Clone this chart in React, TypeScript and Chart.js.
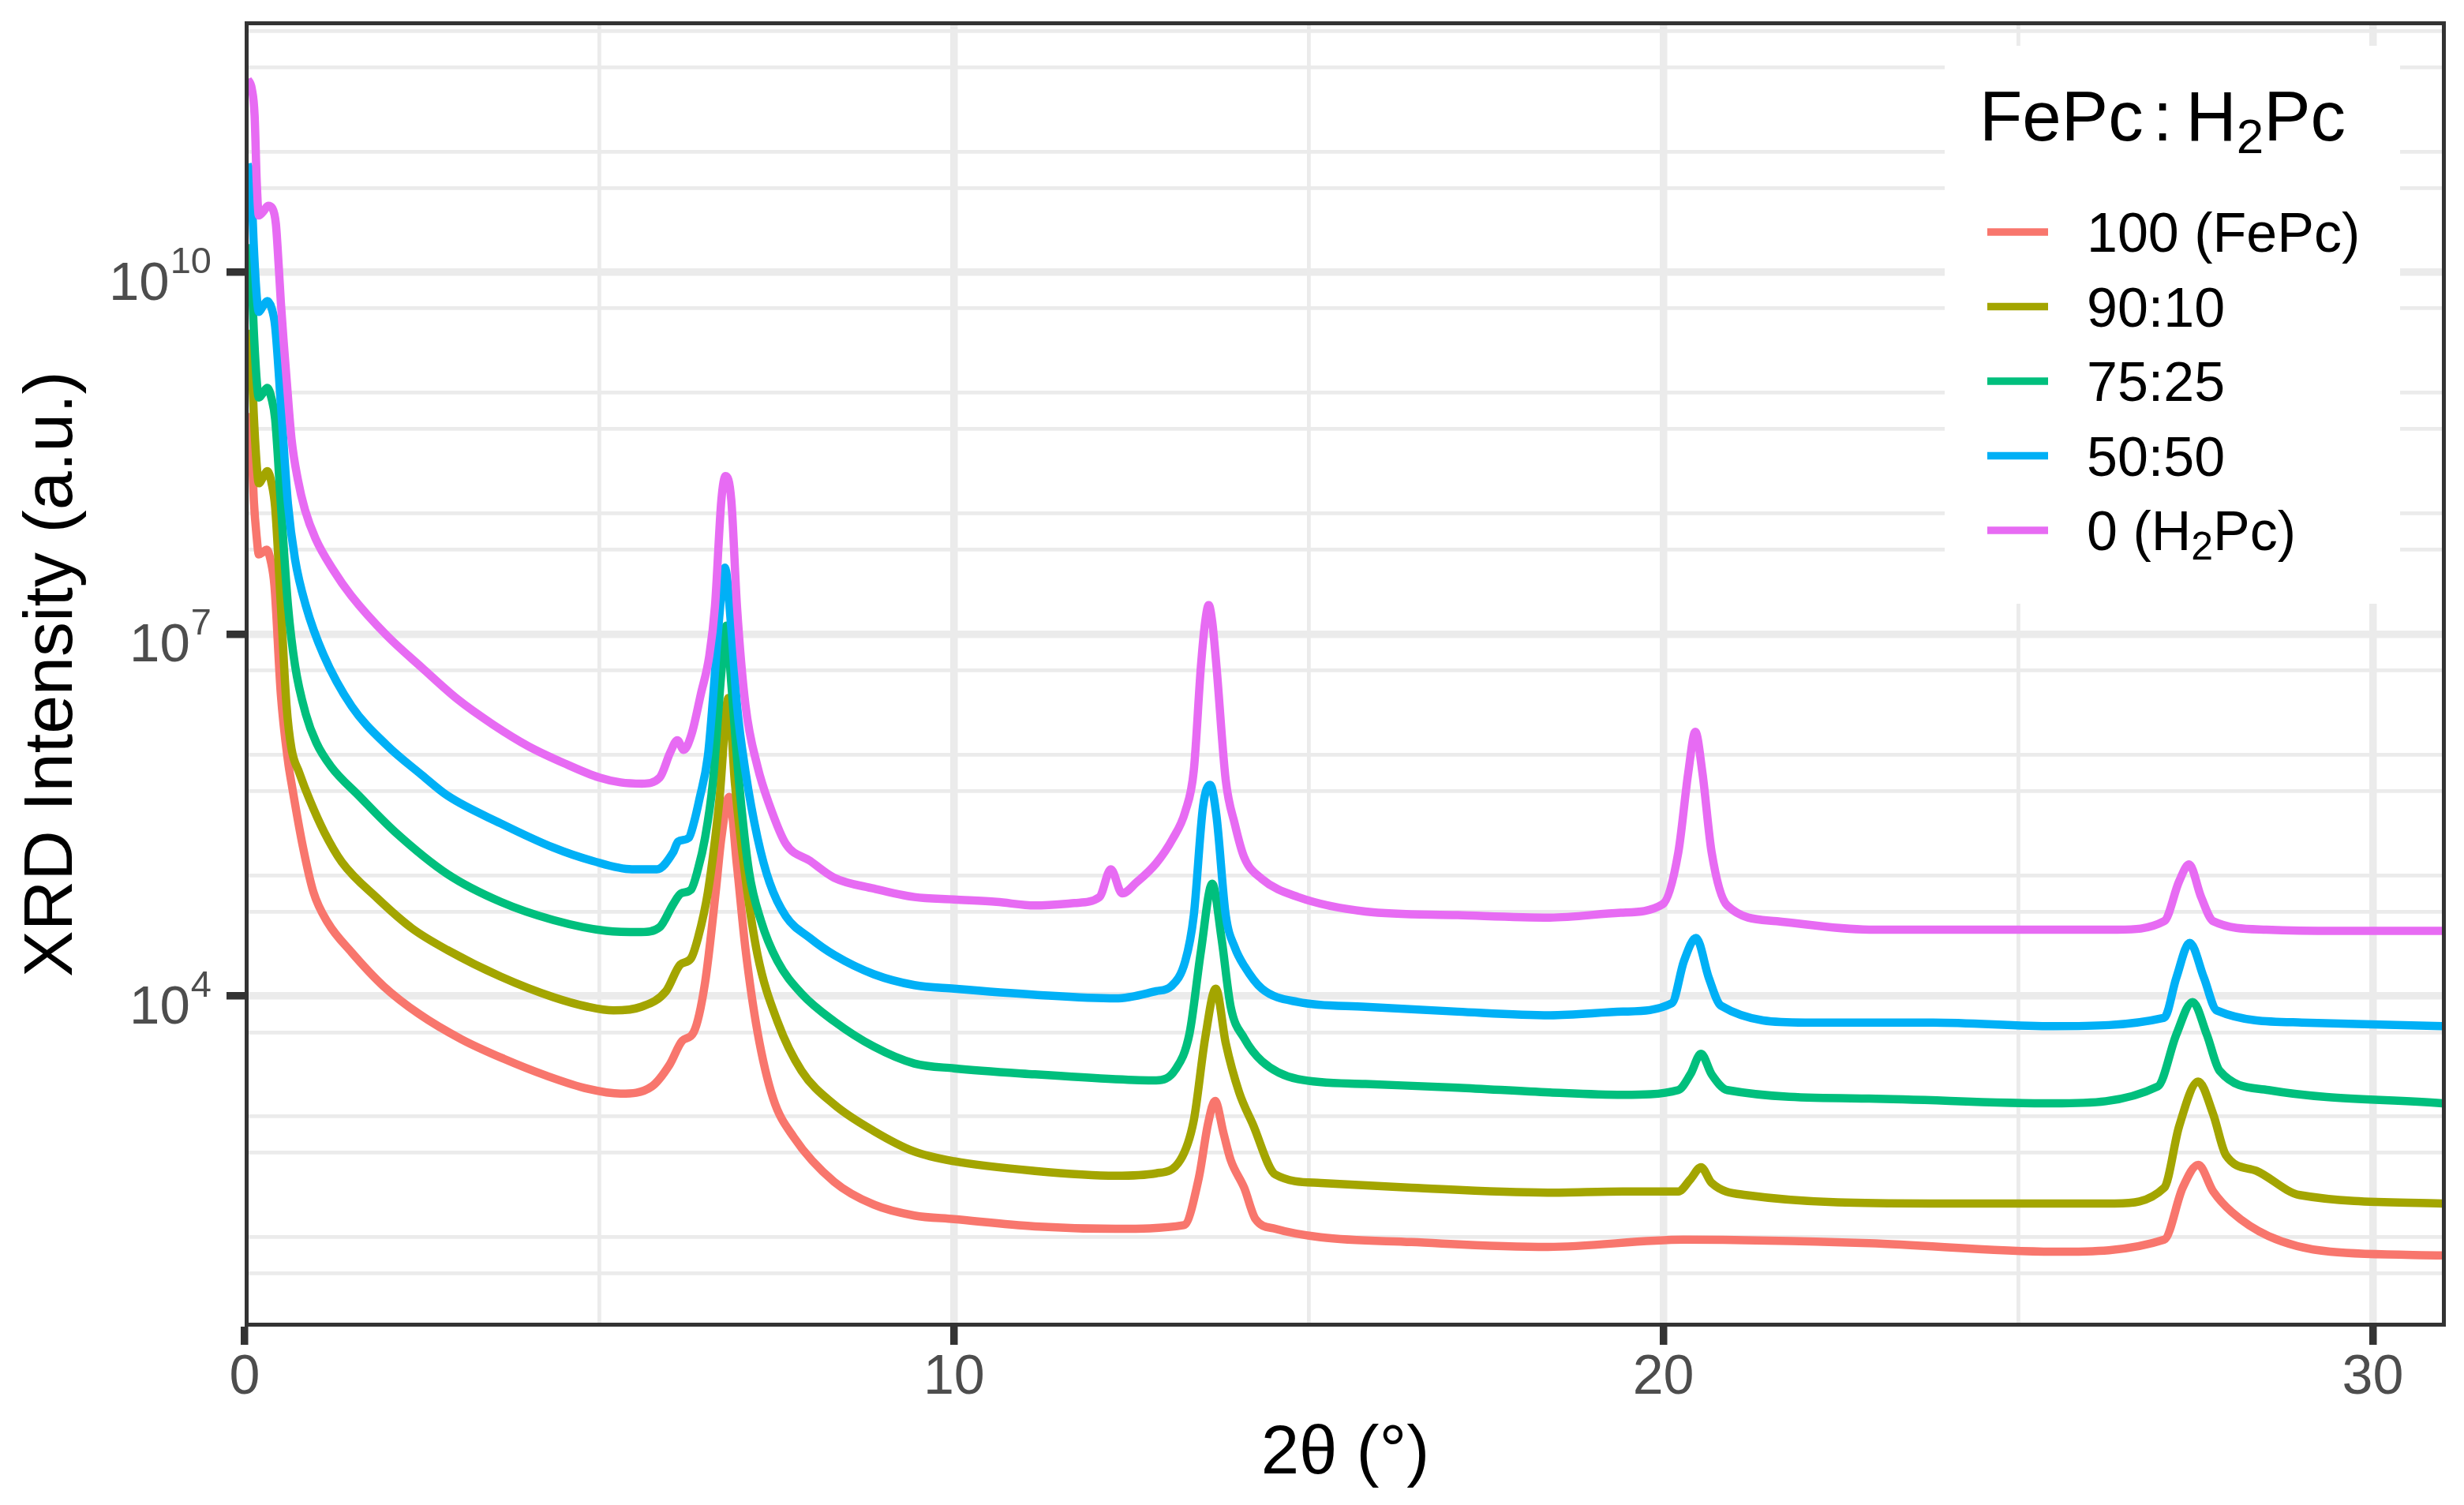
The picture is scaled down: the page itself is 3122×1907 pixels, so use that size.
import React, { useEffect, useRef } from 'react';
import { Chart, registerables } from 'chart.js';

Chart.register(...registerables);

const FONT = '"Liberation Sans", Arial, Helvetica, sans-serif';
Chart.defaults.font.family = FONT;

// ---- data (2θ in degrees, log10 of XRD intensity) ----
const seriesLabels = ['100 (FePc)', '90:10', '75:25', '50:50', '0 (H_{2}Pc)'];
const seriesColors = ['#F8766D', '#A3A500', '#00BF7D', '#00B0F6', '#E76BF3'];
const legendTitle = 'FePc~{12}:~{17}H_{2}Pc';

const xTickValues = [0, 5, 10, 15, 20, 25, 30];
const xTickLabels = ['0', '', '10', '', '20', '', '30'];
const xLimits = [0, 31.03];
const yLimitsLog10 = [1.259, 12.079];
const yMajorExponents = [4, 7, 10];
const yGridValues = [5e1, 1e2, 5e2, 1e3, 5e3, 1e4, 5e4, 1e5, 5e5, 1e6, 5e6, 1e7, 5e7, 1e8, 5e8, 1e9, 5e9, 1e10, 5e10, 1e11, 5e11, 1e12];

const fePc100: [number, number][] = [
  [0.04, 8.83], [0.09, 8.65], [0.13, 8.1], [0.17, 7.8], [0.2, 7.66], [0.26, 7.68], [0.31, 7.7], [0.37, 7.6], [0.42, 7.4],
  [0.51, 6.5], [0.61, 5.95], [0.67, 5.73], [0.82, 5.24], [0.97, 4.86], [1.17, 4.61], [1.51, 4.36], [1.96, 4.08], [2.46, 3.85],
  [3.06, 3.64], [3.65, 3.48], [4.25, 3.34], [4.84, 3.23], [5.3, 3.19], [5.74, 3.25], [5.99, 3.43], [6.17, 3.63], [6.33, 3.7],
  [6.49, 4.11], [6.64, 4.86], [6.72, 5.31], [6.83, 5.65], [6.94, 5.08], [7.06, 4.39], [7.23, 3.7], [7.45, 3.15], [7.74, 2.83],
  [8.31, 2.46], [8.87, 2.27], [9.44, 2.18], [10.0, 2.15], [11.14, 2.09], [12.28, 2.07], [13.24, 2.1], [13.45, 2.49], [13.58, 2.94],
  [13.68, 3.13], [13.8, 2.86], [13.9, 2.64], [14.09, 2.41], [14.25, 2.15], [14.53, 2.07], [15.17, 2.0], [16.45, 1.96], [18.37, 1.92],
  [20.29, 1.98], [22.9, 1.95], [25.5, 1.88], [27.06, 1.98], [27.32, 2.41], [27.54, 2.6], [27.75, 2.38], [28.01, 2.21], [28.53, 2.01],
  [29.4, 1.88], [30.98, 1.85],
];

const fePc90: [number, number][] = [
  [0.04, 9.52], [0.09, 9.35], [0.13, 8.8], [0.17, 8.4], [0.2, 8.25], [0.26, 8.3], [0.32, 8.35], [0.38, 8.25], [0.43, 8.05],
  [0.51, 7.24], [0.59, 6.41], [0.66, 6.05], [0.77, 5.85], [0.92, 5.62], [1.12, 5.36], [1.37, 5.11], [1.87, 4.81], [2.36, 4.56],
  [2.86, 4.38], [3.61, 4.16], [4.35, 3.99], [4.84, 3.91], [5.2, 3.88], [5.59, 3.91], [5.94, 4.04], [6.14, 4.26], [6.29, 4.31],
  [6.39, 4.48], [6.53, 4.86], [6.69, 5.61], [6.82, 6.47], [6.91, 5.77], [7.06, 4.98], [7.23, 4.34], [7.51, 3.79], [7.85, 3.38],
  [8.31, 3.1], [8.87, 2.88], [9.44, 2.71], [10.0, 2.63], [11.14, 2.55], [12.28, 2.51], [12.85, 2.53], [13.19, 2.64], [13.38, 2.97],
  [13.54, 3.65], [13.69, 4.06], [13.83, 3.61], [14.02, 3.2], [14.21, 2.94], [14.53, 2.52], [15.17, 2.45], [16.45, 2.41], [18.37, 2.37],
  [19.43, 2.38], [20.21, 2.38], [20.38, 2.48], [20.53, 2.58], [20.68, 2.45], [21.16, 2.35], [23.76, 2.28], [26.36, 2.28],
  [27.06, 2.41], [27.27, 2.92], [27.54, 3.29], [27.75, 3.02], [27.93, 2.68], [28.36, 2.55], [28.97, 2.35], [30.98, 2.28],
];

const fePc75: [number, number][] = [
  [0.04, 10.23], [0.09, 10.05], [0.13, 9.5], [0.17, 9.1], [0.2, 8.96], [0.26, 9.0], [0.32, 9.04], [0.38, 8.95], [0.43, 8.78],
  [0.51, 8.08], [0.61, 7.24], [0.71, 6.74], [0.86, 6.34], [1.01, 6.1], [1.22, 5.9], [1.61, 5.66], [2.12, 5.36], [2.86, 5.01],
  [3.61, 4.78], [4.35, 4.63], [5.1, 4.54], [5.59, 4.53], [5.85, 4.57], [6.04, 4.76], [6.15, 4.85], [6.29, 4.88], [6.39, 5.05],
  [6.49, 5.31], [6.6, 5.77], [6.72, 6.68], [6.79, 7.07], [6.86, 6.59], [6.97, 5.77], [7.11, 5.03], [7.28, 4.62], [7.51, 4.29],
  [7.85, 4.02], [8.31, 3.79], [8.87, 3.58], [9.44, 3.44], [10.0, 3.4], [11.14, 3.35], [12.28, 3.31], [12.85, 3.3], [13.12, 3.39],
  [13.32, 3.69], [13.48, 4.37], [13.64, 4.93], [13.77, 4.48], [13.9, 3.91], [14.09, 3.65], [14.34, 3.46], [14.85, 3.31], [15.8, 3.27],
  [17.1, 3.24], [18.4, 3.2], [19.43, 3.18], [20.21, 3.22], [20.38, 3.35], [20.53, 3.52], [20.68, 3.35], [20.9, 3.22], [22.9, 3.15],
  [25.5, 3.11], [26.97, 3.25], [27.23, 3.68], [27.46, 3.95], [27.66, 3.68], [27.84, 3.38], [28.53, 3.22], [30.98, 3.11],
];

const fePc50: [number, number][] = [
  [0.04, 10.9], [0.09, 10.75], [0.13, 10.2], [0.17, 9.8], [0.2, 9.67], [0.26, 9.72], [0.32, 9.76], [0.38, 9.7], [0.43, 9.55],
  [0.51, 8.91], [0.61, 8.08], [0.71, 7.62], [0.86, 7.24], [1.11, 6.83], [1.51, 6.4], [2.0, 6.08], [2.5, 5.83], [2.86, 5.66],
  [3.61, 5.43], [4.35, 5.23], [4.9, 5.12], [5.46, 5.05], [5.81, 5.05], [6.04, 5.19], [6.11, 5.28], [6.26, 5.31], [6.33, 5.43],
  [6.41, 5.63], [6.53, 5.99], [6.6, 6.45], [6.69, 7.14], [6.77, 7.55], [6.86, 7.05], [6.94, 6.41], [7.06, 5.86], [7.23, 5.31],
  [7.4, 4.94], [7.63, 4.66], [7.97, 4.48], [8.31, 4.34], [8.87, 4.18], [9.44, 4.09], [10.0, 4.06], [11.14, 4.01], [12.28, 3.98],
  [12.85, 4.04], [13.06, 4.08], [13.26, 4.29], [13.38, 4.67], [13.51, 5.57], [13.61, 5.75], [13.7, 5.49], [13.83, 4.67], [13.96, 4.4],
  [14.09, 4.25], [14.34, 4.06], [14.85, 3.95], [15.8, 3.91], [17.1, 3.87], [18.4, 3.84], [19.43, 3.87], [20.12, 3.94], [20.29, 4.29],
  [20.46, 4.48], [20.64, 4.15], [20.81, 3.92], [22.0, 3.78], [23.8, 3.78], [25.5, 3.75], [27.06, 3.82], [27.23, 4.15], [27.42, 4.44],
  [27.62, 4.15], [27.8, 3.88], [29.0, 3.78], [30.98, 3.75],
];

const fePc0: [number, number][] = [
  [0.04, 11.6], [0.1, 11.52], [0.14, 11.3], [0.17, 10.75], [0.2, 10.47], [0.26, 10.5], [0.33, 10.55], [0.39, 10.53], [0.44, 10.4],
  [0.48, 10.05], [0.51, 9.75], [0.55, 9.42], [0.59, 9.12], [0.66, 8.62], [0.75, 8.28], [0.85, 8.03], [1.0, 7.79], [1.25, 7.53],
  [1.5, 7.32], [2.0, 6.99], [2.5, 6.72], [3.0, 6.46], [3.5, 6.25], [4.0, 6.07], [4.5, 5.93], [5.0, 5.81], [5.3, 5.77], [5.6, 5.76],
  [5.85, 5.81], [6.0, 6.02], [6.1, 6.12], [6.19, 6.04], [6.3, 6.17], [6.43, 6.5], [6.55, 6.82], [6.63, 7.23], [6.72, 8.11],
  [6.78, 8.31], [6.86, 8.11], [6.94, 7.23], [7.06, 6.41], [7.23, 5.9], [7.4, 5.58], [7.63, 5.26], [7.97, 5.12], [8.31, 4.98],
  [8.87, 4.89], [9.44, 4.82], [10.0, 4.8], [10.6, 4.78], [11.14, 4.75], [11.7, 4.77], [12.05, 4.82], [12.21, 5.05], [12.37, 4.85],
  [12.57, 4.94], [12.85, 5.1], [13.08, 5.3], [13.26, 5.53], [13.38, 5.87], [13.48, 6.73], [13.54, 7.1], [13.59, 7.24], [13.64, 7.1],
  [13.7, 6.73], [13.83, 5.79], [13.96, 5.42], [14.09, 5.15], [14.34, 4.97], [14.85, 4.82], [15.8, 4.7], [17.1, 4.67], [18.4, 4.65],
  [19.4, 4.69], [19.99, 4.76], [20.21, 5.19], [20.35, 5.85], [20.45, 6.19], [20.55, 5.85], [20.68, 5.19], [20.9, 4.75], [21.6, 4.62],
  [22.9, 4.55], [24.6, 4.55], [26.4, 4.55], [27.06, 4.62], [27.27, 4.95], [27.41, 5.09], [27.58, 4.82], [27.75, 4.62], [28.5, 4.55],
  [29.5, 4.54], [30.98, 4.54],
];

const allSeries = [fePc100, fePc90, fePc75, fePc50, fePc0];

// ---- helpers ----
const isMajorY = (v: number) => {
  const l = Math.log10(v);
  const r = Math.round(l);
  return Math.abs(l - r) < 1e-6 && yMajorExponents.includes(r);
};
const isMajorX = (v: number) => Math.abs(v % 10) < 1e-9;

// draws text with _{sub} subscripts and ~{px} gaps
function drawRich(ctx: CanvasRenderingContext2D, x: number, y: number, text: string, size: number, subSize: number, subDy: number) {
  const parts = text.split(/(_\{[^}]*\}|~\{[^}]*\})/).filter((p) => p.length > 0);
  let cx = x;
  for (const p of parts) {
    if (p.startsWith('_{')) {
      const s = p.slice(2, -1);
      ctx.font = `${subSize}px ${FONT}`;
      ctx.fillText(s, cx, y + subDy);
      cx += ctx.measureText(s).width;
    } else if (p.startsWith('~{')) {
      cx += Number(p.slice(2, -1));
    } else {
      ctx.font = `${size}px ${FONT}`;
      ctx.fillText(p, cx, y);
      cx += ctx.measureText(p).width;
    }
  }
}

const panelPlugin = {
  id: 'ggPanel',
  afterDatasetsDraw(chart: any) {
    const ctx: CanvasRenderingContext2D = chart.ctx;
    const a = chart.chartArea;
    ctx.save();
    ctx.beginPath();
    ctx.rect(a.left, a.top, a.right - a.left, a.bottom - a.top);
    ctx.clip();

    // legend (inside the panel, top-right)
    const boxRight = a.right - 58;
    const boxLeft = boxRight - 577;
    const boxTop = a.top + 31;
    const boxBottom = a.top + 738;
    ctx.fillStyle = '#FFFFFF';
    ctx.fillRect(boxLeft, boxTop, boxRight - boxLeft, boxBottom - boxTop);
    ctx.fillStyle = '#000000';
    ctx.textAlign = 'left';
    ctx.textBaseline = 'alphabetic';
    drawRich(ctx, boxLeft + 44, boxTop + 120, legendTitle, 89, 62, 16);
    for (let i = 0; i < seriesLabels.length; i++) {
      const ky = boxTop + 236 + i * 94.5;
      ctx.strokeStyle = seriesColors[i];
      ctx.lineWidth = 9.5;
      ctx.lineCap = 'butt';
      ctx.beginPath();
      ctx.moveTo(boxLeft + 54, ky);
      ctx.lineTo(boxLeft + 131, ky);
      ctx.stroke();
      ctx.fillStyle = '#000000';
      drawRich(ctx, boxLeft + 180, ky + 25, seriesLabels[i], 70, 50, 12);
    }

    // panel border (only inner half visible, like a clipped ggplot border)
    ctx.strokeStyle = '#333333';
    ctx.lineWidth = 10;
    ctx.strokeRect(a.left, a.top, a.right - a.left, a.bottom - a.top);
    ctx.restore();
  },
  afterDraw(chart: any) {
    const ctx: CanvasRenderingContext2D = chart.ctx;
    const ys = chart.scales.y;
    ctx.save();
    ctx.fillStyle = '#4D4D4D';
    ctx.textBaseline = 'alphabetic';
    ctx.textAlign = 'right';
    for (const e of yMajorExponents) {
      const py = ys.getPixelForValue(Math.pow(10, e));
      const rightX = ys.right - 23 - 19;
      ctx.font = `47px ${FONT}`;
      const ew = ctx.measureText(String(e)).width;
      ctx.fillText(String(e), rightX, py + 1);
      ctx.font = `69px ${FONT}`;
      ctx.fillText('10', rightX - ew - 1, py + 35);
    }
    ctx.restore();
  },
};

export default function App() {
  const ref = useRef<HTMLCanvasElement>(null);

  useEffect(() => {
    const canvas = ref.current;
    if (!canvas) return;
    const datasets = allSeries.map((pts, i) => ({
      label: seriesLabels[i].replace(/_\{([^}]*)\}/g, '$1'),
      data: pts.map(([x, l]) => ({ x, y: Math.pow(10, l) })),
      borderColor: seriesColors[i],
      backgroundColor: seriesColors[i],
      borderWidth: 10.5,
      pointRadius: 0,
      pointHoverRadius: 0,
      fill: false,
      cubicInterpolationMode: 'monotone' as const,
      borderJoinStyle: 'round' as const,
      order: allSeries.length - i,
    }));

    const chart = new Chart(canvas, {
      type: 'line',
      data: { datasets },
      options: {
        animation: false,
        responsive: false,
        layout: { padding: { left: 0, right: 23, top: 27, bottom: 0 } },
        plugins: { legend: { display: false }, tooltip: { enabled: false } },
        scales: {
          x: {
            type: 'linear',
            min: xLimits[0],
            max: xLimits[1],
            bounds: 'data',
            afterBuildTicks: (scale: any) => {
              scale.ticks = xTickValues.map((v) => ({ value: v }));
            },
            afterFit: (scale: any) => {
              scale.height = 226;
            },
            ticks: {
              autoSkip: false,
              maxRotation: 0,
              padding: 1,
              color: '#4D4D4D',
              font: { family: FONT, size: 70 },
              callback: (v: any) => {
                const idx = xTickValues.indexOf(Number(v));
                return idx >= 0 ? xTickLabels[idx] : '';
              },
            },
            grid: {
              color: (c: any) => (c.tick && c.tick.value === 0 ? 'rgba(0,0,0,0)' : '#EBEBEB'),
              lineWidth: (c: any) => (c.tick && isMajorX(c.tick.value) ? 9.5 : 4.8),
              drawTicks: true,
              tickLength: 23,
              tickWidth: 9.5,
              tickColor: (c: any) => (c.tick && isMajorX(c.tick.value) ? '#333333' : 'rgba(0,0,0,0)'),
            },
            border: { display: false },
            title: {
              display: true,
              text: '2θ (°)',
              color: '#000000',
              font: { family: FONT, size: 87 },
              padding: { top: 0, bottom: 12 },
            },
          },
          y: {
            type: 'logarithmic',
            min: Math.pow(10, yLimitsLog10[0]),
            max: Math.pow(10, yLimitsLog10[1]),
            bounds: 'data',
            afterBuildTicks: (scale: any) => {
              scale.ticks = yGridValues.map((v) => ({ value: v }));
            },
            afterFit: (scale: any) => {
              scale.width = 310;
            },
            ticks: { display: false },
            grid: {
              color: '#EBEBEB',
              lineWidth: (c: any) => (c.tick && isMajorY(c.tick.value) ? 9.5 : 4.8),
              drawTicks: true,
              tickLength: 23,
              tickWidth: 9.5,
              tickColor: (c: any) => (c.tick && isMajorY(c.tick.value) ? '#333333' : 'rgba(0,0,0,0)'),
            },
            border: { display: false },
            title: {
              display: true,
              text: 'XRD Intensity (a.u.)',
              color: '#000000',
              font: { family: FONT, size: 88 },
              padding: { top: 14, bottom: 0 },
            },
          },
        },
      } as any,
      plugins: [panelPlugin],
    });
    return () => chart.destroy();
  }, []);

  return (
    <div style={{ position: 'fixed', left: 0, top: 0, width: 3122, height: 1907, background: '#FFFFFF' }}>
      <canvas ref={ref} width={3122} height={1907} style={{ width: '3122px', height: '1907px', display: 'block' }} />
    </div>
  );
}
